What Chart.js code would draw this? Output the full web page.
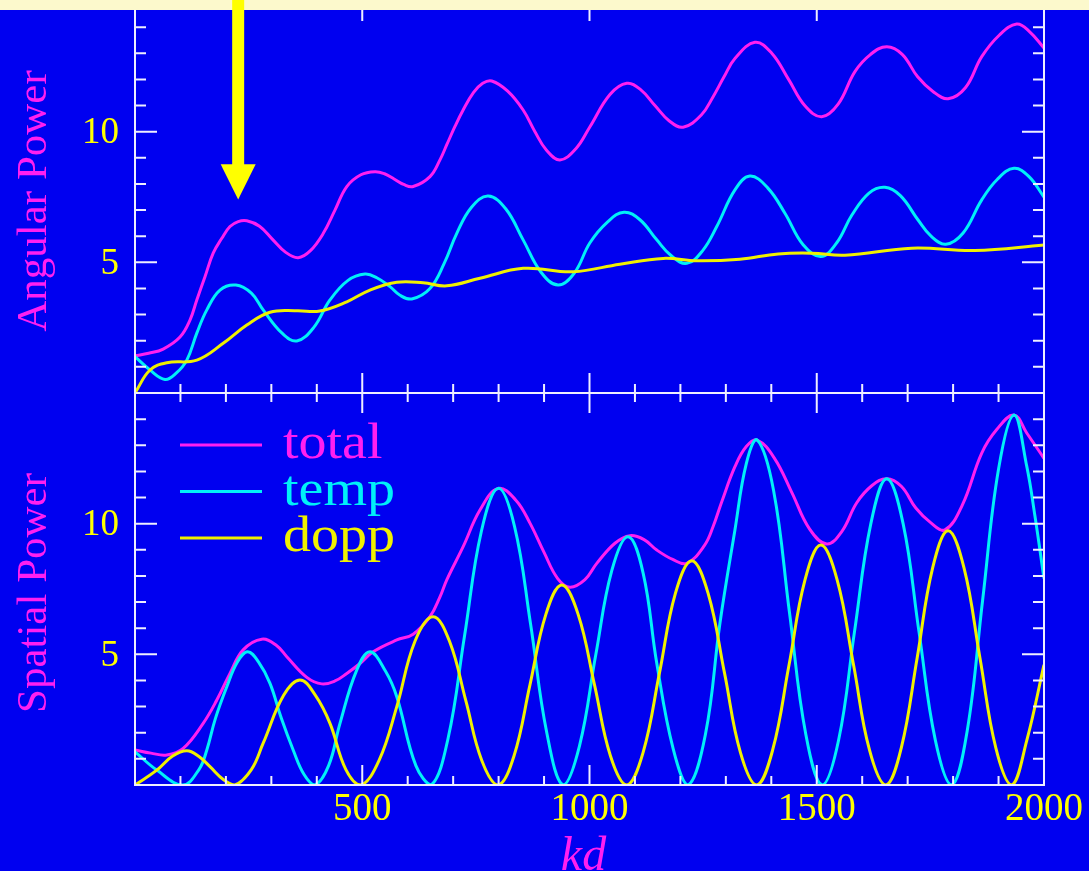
<!DOCTYPE html>
<html>
<head>
<meta charset="utf-8">
<script src="https://cdn.jsdelivr.net/npm/chart.js@4/dist/chart.umd.min.js"></script>
<style>
  html, body { margin: 0; padding: 0; background: #0000f0; }
  #wrap { position: relative; width: 1089px; height: 871px; overflow: hidden; }
  #wrap canvas { position: absolute; left: 0; top: 0; }
</style>
</head>
<body>
<div id="wrap">
  <canvas id="angular" width="1089" height="871"></canvas>
  <canvas id="spatial" width="1089" height="871"></canvas>
</div>
<script>
// --- data (kd, power) ---
const seriesLabels = ['total', 'temp', 'dopp'];

// top panel: angular power
const angTotalKd = [0, 30, 62, 99, 121, 136, 154, 172, 191, 209, 227, 246, 274, 302, 331, 359, 386, 414, 440, 466, 497, 528, 549, 570, 591, 612, 649, 671, 686, 704, 722, 745, 765, 785, 820, 854, 880, 905, 935, 970, 1001, 1045, 1082, 1113, 1144, 1175, 1206, 1246, 1272, 1296, 1320, 1364, 1401, 1438, 1474, 1511, 1547, 1584, 1618, 1654, 1688, 1722, 1755, 1789, 1827, 1863, 1902, 1940, 1968, 2000];
const angTotal   = [1.42, 1.52, 1.68, 2.14, 2.79, 3.56, 4.45, 5.35, 5.92, 6.37, 6.56, 6.59, 6.38, 5.89, 5.39, 5.18, 5.45, 6.1, 7.0, 7.9, 8.35, 8.47, 8.39, 8.19, 7.98, 7.9, 8.28, 8.92, 9.5, 10.2, 10.83, 11.5, 11.85, 11.94, 11.55, 10.83, 10.0, 9.3, 8.92, 9.35, 10.19, 11.42, 11.85, 11.6, 11.0, 10.42, 10.17, 10.64, 11.34, 12.1, 12.8, 13.42, 13.0, 12.0, 10.99, 10.57, 11.05, 12.3, 12.95, 13.25, 12.96, 12.1, 11.55, 11.26, 11.68, 12.87, 13.7, 14.12, 13.83, 13.2];

const angTempKd = [0, 33, 66, 90, 114, 136, 158, 187, 222, 256, 282, 323, 356, 393, 429, 468, 506, 532, 561, 583, 609, 649, 680, 708, 740, 777, 816, 854, 893, 931, 967, 1001, 1040, 1076, 1111, 1148, 1180, 1214, 1249, 1280, 1320, 1353, 1392, 1430, 1470, 1509, 1544, 1577, 1615, 1650, 1684, 1723, 1751, 1784, 1822, 1863, 1897, 1934, 1967, 2000];
const angTemp   = [1.39, 0.88, 0.52, 0.75, 1.26, 2.29, 3.18, 3.94, 4.13, 3.82, 3.18, 2.3, 1.99, 2.5, 3.56, 4.3, 4.55, 4.41, 4.07, 3.74, 3.6, 4.0, 4.95, 6.11, 7.1, 7.54, 7.04, 5.86, 4.63, 4.13, 4.6, 5.75, 6.55, 6.92, 6.63, 5.86, 5.25, 4.96, 5.45, 6.37, 7.77, 8.3, 7.85, 6.88, 5.67, 5.22, 5.75, 6.8, 7.65, 7.87, 7.55, 6.62, 6.01, 5.69, 6.12, 7.39, 8.17, 8.6, 8.28, 7.5];

const angDoppKd = [0, 33, 70, 136, 194, 246, 297, 356, 407, 466, 517, 576, 634, 686, 759, 854, 964, 1067, 1162, 1236, 1331, 1415, 1489, 1562, 1709, 1848, 2000];
const angDopp   = [0, 0.88, 1.16, 1.26, 1.9, 2.6, 3.09, 3.15, 3.14, 3.49, 3.94, 4.24, 4.22, 4.1, 4.39, 4.77, 4.64, 4.93, 5.15, 5.06, 5.12, 5.32, 5.35, 5.27, 5.54, 5.45, 5.66];

// bottom panel: spatial power
const spaTotalKd = [0, 35, 70, 106, 150, 180, 209, 238, 279, 312, 334, 378, 411, 440, 466, 495, 524, 576, 612, 649, 671, 686, 722, 759, 799, 838, 869, 900, 930, 957, 990, 1016, 1056, 1089, 1120, 1148, 1183, 1214, 1253, 1272, 1291, 1320, 1345, 1369, 1407, 1445, 1484, 1522, 1555, 1588, 1621, 1654, 1686, 1718, 1750, 1782, 1820, 1863, 1896, 1934, 1962, 2000];
const spaTotal   = [1.34, 1.22, 1.15, 1.4, 2.36, 3.25, 4.27, 5.17, 5.58, 5.33, 4.91, 4.12, 3.87, 3.98, 4.27, 4.65, 5.1, 5.55, 5.77, 6.44, 7.2, 7.85, 9.12, 10.52, 11.35, 10.9, 10.02, 8.9, 7.9, 7.57, 7.86, 8.48, 9.25, 9.54, 9.39, 8.99, 8.63, 8.48, 9.17, 9.89, 10.84, 12.18, 12.95, 13.2, 12.5, 11.2, 9.8, 9.22, 9.7, 10.8, 11.45, 11.72, 11.43, 10.6, 10.05, 9.76, 10.7, 12.7, 13.6, 14.16, 13.47, 12.5];

const spaTempKd = [0, 48, 105, 141, 158, 177, 202, 225, 248, 272, 297, 322, 348, 372, 396, 426, 451, 487, 517, 551, 576, 618, 652, 689, 725, 762, 799, 835, 870, 906, 942, 978, 1014, 1049, 1085, 1118, 1148, 1184, 1217, 1255, 1287, 1320, 1345, 1369, 1405, 1440, 1476, 1512, 1548, 1583, 1619, 1654, 1690, 1725, 1761, 1797, 1831, 1865, 1900, 1934, 1962, 1980, 2000];
const spaTemp   = [1.27, 0.57, 0, 0.6, 1.34, 2.55, 3.76, 4.7, 5.1, 4.7, 3.89, 2.55, 1.34, 0.4, 0, 0.74, 2.36, 4.36, 5.1, 4.36, 3.38, 0.74, 0, 1.8, 5.7, 9.7, 11.35, 9.9, 6.2, 2.0, 0, 1.5, 5.0, 8.2, 9.5, 8.11, 4.66, 1.39, 0, 1.93, 6.19, 9.76, 12.3, 13.2, 11.27, 6.6, 1.93, 0, 1.71, 5.86, 10.0, 11.72, 10.0, 5.86, 1.71, 0, 2.07, 7.08, 12.09, 14.16, 12.2, 10.3, 7.9];

const spaDoppKd = [0, 48, 82, 114, 140, 165, 195, 220, 256, 282, 327, 363, 397, 429, 464, 497, 537, 576, 616, 656, 692, 728, 763, 799, 834, 869, 904, 939, 975, 1011, 1046, 1082, 1118, 1154, 1189, 1225, 1261, 1297, 1332, 1368, 1403, 1439, 1474, 1509, 1545, 1581, 1616, 1652, 1686, 1721, 1755, 1789, 1824, 1859, 1894, 1929, 1962, 2000];
const spaDopp   = [0, 0.57, 1.1, 1.31, 1.1, 0.7, 0.2, 0, 0.59, 1.6, 3.43, 4.02, 3.43, 2.36, 0.59, 0, 0.94, 3.0, 5.5, 6.44, 5.5, 3.22, 0.94, 0, 1.12, 3.83, 6.53, 7.65, 6.53, 3.83, 1.12, 0, 1.25, 4.29, 7.33, 8.58, 7.33, 4.29, 1.25, 0, 1.34, 4.59, 7.84, 9.18, 7.84, 4.59, 1.34, 0, 1.42, 4.87, 8.31, 9.73, 8.31, 4.87, 1.42, 0, 1.7, 4.6];

// axes
const kdMin = 0, kdMax = 2000, kdMinorStep = 100, kdMajorStep = 500;
const powMin = 0, powMax = 15, powMinorStep = 1, powMajorStep = 5;
const xTickValues = [500, 1000, 1500, 2000];
const xTickLabels = ['500', '1000', '1500', '2000'];
const yTickValues = [5, 10];
const yTickLabels = ['5', '10'];
const arrowKd = 227, arrowTip = 7.4, arrowHeadBase = 8.75;

const MAGENTA = '#ff1ff0';
const CYAN = '#00f0f8';
const YELLOW = '#f0f000';
const LABEL_YELLOW = '#ffff00';
const FRAME = '#eeeeff';
const SERIF = '"Liberation Serif", "Times New Roman", serif';

function pairs(xs, ys) {
    return xs.map((x, i) => ({ x: x, y: ys[i] }));
}

function makeDatasets(total, temp, dopp) {
    const colors = [MAGENTA, CYAN, YELLOW];
    return [total, temp, dopp].map((pts, i) => ({
        label: seriesLabels[i],
        data: pts,
        borderColor: colors[i],
        backgroundColor: colors[i],
        borderWidth: 3,
        pointRadius: 0,
        fill: false,
        tension: 0.4,
        order: 3 - i
    }));
}

// frame with inward ticks, tick labels, axis titles, legend and arrow
const panelDecor = {
    id: 'panelDecor',
    afterDraw(chart, args, opts) {
        const ctx = chart.ctx;
        const a = chart.chartArea;
        const x = chart.scales.x, y = chart.scales.y;
        ctx.save();

        ctx.strokeStyle = FRAME;
        ctx.lineWidth = 2;
        ctx.strokeRect(a.left, a.top, a.right - a.left, a.bottom - a.top);

        ctx.beginPath();
        for (let v = kdMin + kdMinorStep; v < kdMax; v += kdMinorStep) {
            const px = x.getPixelForValue(v);
            const len = v % kdMajorStep === 0 ? 20 : 9;
            ctx.moveTo(px, a.bottom); ctx.lineTo(px, a.bottom - len);
            ctx.moveTo(px, a.top); ctx.lineTo(px, a.top + len);
        }
        for (let v = powMin + powMinorStep; v < powMax; v += powMinorStep) {
            const py = y.getPixelForValue(v);
            const len = v % powMajorStep === 0 ? 22 : 11;
            ctx.moveTo(a.left, py); ctx.lineTo(a.left + len, py);
            ctx.moveTo(a.right, py); ctx.lineTo(a.right - len, py);
        }
        ctx.stroke();

        // y tick labels
        ctx.fillStyle = LABEL_YELLOW;
        ctx.font = '37px ' + SERIF;
        ctx.textAlign = 'right';
        ctx.textBaseline = 'middle';
        yTickValues.forEach((v, i) => {
            ctx.fillText(yTickLabels[i], a.left - 16, y.getPixelForValue(v) + 2);
        });

        // x tick labels (bottom panel only)
        if (opts.xLabels) {
            ctx.font = '39px ' + SERIF;
            ctx.textAlign = 'center';
            xTickValues.forEach((v, i) => {
                ctx.fillText(xTickLabels[i], x.getPixelForValue(v), a.bottom + 25);
            });
            ctx.fillStyle = MAGENTA;
            ctx.font = 'italic 48px ' + SERIF;
            ctx.textBaseline = 'alphabetic';
            ctx.fillText('kd', (a.left + a.right) / 2 - 6, a.bottom + 85);
        }

        // rotated y title
        ctx.save();
        ctx.translate(46, (a.top + a.bottom) / 2 + 4);
        ctx.rotate(-Math.PI / 2);
        ctx.fillStyle = MAGENTA;
        ctx.font = '43px ' + SERIF;
        ctx.textAlign = 'center';
        ctx.textBaseline = 'alphabetic';
        ctx.fillText(opts.title, 0, 0);
        ctx.restore();

        if (opts.legend) {
            chart.data.datasets.forEach((ds, i) => {
                const ly = a.top + 52 + i * 46.5;
                ctx.strokeStyle = ds.borderColor;
                ctx.lineWidth = 3;
                ctx.beginPath();
                ctx.moveTo(a.left + 45, ly);
                ctx.lineTo(a.left + 127, ly);
                ctx.stroke();
                ctx.save();
                ctx.translate(a.left + 148, ly + 13);
                ctx.scale(1.12, 1);
                ctx.fillStyle = ds.borderColor;
                ctx.font = '50px ' + SERIF;
                ctx.textAlign = 'left';
                ctx.textBaseline = 'alphabetic';
                ctx.fillText(ds.label, 0, 0);
                ctx.restore();
            });
        }

        if (opts.arrow) {
            // pale strip along the top edge
            ctx.fillStyle = '#fcf9cc';
            ctx.fillRect(0, 0, chart.width, 10);

            const ax = x.getPixelForValue(arrowKd);
            const tip = y.getPixelForValue(arrowTip);
            const base = y.getPixelForValue(arrowHeadBase);
            ctx.fillStyle = LABEL_YELLOW;
            ctx.fillRect(ax - 6, 0, 12, base + 1);
            ctx.beginPath();
            ctx.moveTo(ax - 17.5, base);
            ctx.lineTo(ax + 17.5, base);
            ctx.lineTo(ax, tip);
            ctx.closePath();
            ctx.fill();
        }
        ctx.restore();
    }
};

function renderPanel(canvasId, datasets, padding, decor) {
    const canvas = document.getElementById(canvasId);
    return new Chart(canvas.getContext('2d'), {
        type: 'line',
        data: { datasets: datasets },
        options: {
            responsive: false,
            animation: false,
            devicePixelRatio: 1,
            layout: { padding: padding },
            plugins: {
                legend: { display: false },
                tooltip: { enabled: false },
                panelDecor: decor
            },
            scales: {
                x: { type: 'linear', min: kdMin, max: kdMax, display: false },
                y: { type: 'linear', min: powMin, max: powMax, display: false }
            }
        },
        plugins: [panelDecor]
    });
}

renderPanel('angular',
    makeDatasets(pairs(angTotalKd, angTotal), pairs(angTempKd, angTemp), pairs(angDoppKd, angDopp)),
    { left: 135, right: 45, top: 1, bottom: 478 },
    { title: 'Angular Power', xLabels: false, legend: false, arrow: true });

renderPanel('spatial',
    makeDatasets(pairs(spaTotalKd, spaTotal), pairs(spaTempKd, spaTemp), pairs(spaDoppKd, spaDopp)),
    { left: 135, right: 45, top: 393, bottom: 86 },
    { title: 'Spatial Power', xLabels: true, legend: true, arrow: false });
</script>
</body>
</html>
